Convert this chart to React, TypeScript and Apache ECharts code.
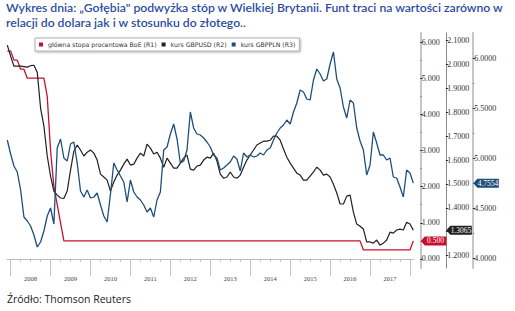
import React, { useEffect, useRef } from "react";
import * as echarts from "echarts";

const TITLE_LINES = [
  "Wykres dnia: „Gołębia\" podwyżka stóp w Wielkiej Brytanii. Funt traci na wartości zarówno w",
  "relacji do dolara jak i w stosunku do złotego..",
];
const SOURCE = "Źródło: Thomson Reuters";

const SERIES_NAMES = [
  "główna stopa procentowa BoE (R1)",
  "kurs GBPUSD (R2)",
  "kurs GBPPLN (R3)",
];

// monthly categories Oct 2007 .. Dec 2017
const MONTHS: string[] = Array.from({ length: 123 }, (_, i) => {
  const m = 9 + i;
  const y = 2007 + Math.floor(m / 12);
  const mm = (m % 12) + 1;
  return `${y}-${String(mm).padStart(2, "0")}`;
});

const BOE_RATE = [
  5.75, 5.75, 5.5, 5.5, 5.25, 5.25, 5.0, 5.0, 5.0, 5.0,
  5.0, 5.0, 4.5, 3.0, 2.0, 1.5, 1.0, 0.5, 0.5, 0.5,
  0.5, 0.5, 0.5, 0.5, 0.5, 0.5, 0.5, 0.5, 0.5, 0.5,
  0.5, 0.5, 0.5, 0.5, 0.5, 0.5, 0.5, 0.5, 0.5, 0.5,
  0.5, 0.5, 0.5, 0.5, 0.5, 0.5, 0.5, 0.5, 0.5, 0.5,
  0.5, 0.5, 0.5, 0.5, 0.5, 0.5, 0.5, 0.5, 0.5, 0.5,
  0.5, 0.5, 0.5, 0.5, 0.5, 0.5, 0.5, 0.5, 0.5, 0.5,
  0.5, 0.5, 0.5, 0.5, 0.5, 0.5, 0.5, 0.5, 0.5, 0.5,
  0.5, 0.5, 0.5, 0.5, 0.5, 0.5, 0.5, 0.5, 0.5, 0.5,
  0.5, 0.5, 0.5, 0.5, 0.5, 0.5, 0.5, 0.5, 0.5, 0.5,
  0.5, 0.5, 0.5, 0.5, 0.5, 0.5, 0.5, 0.25, 0.25, 0.25,
  0.25, 0.25, 0.25, 0.25, 0.25, 0.25, 0.25, 0.25, 0.25, 0.25,
  0.25, 0.25, 0.5,
];

const GBPUSD = [
  2.081, 2.035, 1.993, 1.993, 1.993, 1.991, 1.989, 1.995, 1.997, 1.968,
  1.817, 1.742, 1.617, 1.533, 1.47, 1.453, 1.441, 1.439, 1.47, 1.558,
  1.637, 1.663, 1.642, 1.617, 1.633, 1.642, 1.629, 1.6, 1.541, 1.529,
  1.516, 1.47, 1.508, 1.537, 1.558, 1.583, 1.604, 1.579, 1.583, 1.608,
  1.629, 1.617, 1.667, 1.65, 1.625, 1.633, 1.608, 1.57, 1.608, 1.587,
  1.566, 1.566, 1.587, 1.608, 1.621, 1.562, 1.558, 1.575, 1.579, 1.6,
  1.612, 1.608, 1.629, 1.596, 1.541, 1.524, 1.529, 1.55, 1.529, 1.524,
  1.537, 1.57, 1.6, 1.621, 1.642, 1.663, 1.671, 1.679, 1.679, 1.683,
  1.7, 1.7, 1.683, 1.646, 1.612, 1.587, 1.566, 1.545, 1.537, 1.516,
  1.516, 1.533, 1.55, 1.57, 1.558, 1.537, 1.541, 1.529, 1.499, 1.462,
  1.416, 1.416, 1.449, 1.453, 1.382, 1.332, 1.323, 1.311, 1.257, 1.257,
  1.252, 1.265, 1.244, 1.252, 1.265, 1.298, 1.294, 1.307, 1.311, 1.307,
  1.34, 1.332, 1.3065,
];

const GBPPLN = [
  5.187, 5.047, 4.927, 4.867, 4.687, 4.417, 4.377, 4.327, 4.237, 4.117,
  4.167, 4.277, 4.427, 4.507, 4.347, 5.107, 5.197, 5.007, 4.977, 5.147,
  5.167, 4.957, 4.677, 4.617, 4.687, 4.607, 4.617, 4.657, 4.537, 4.427,
  4.367, 4.647, 4.957, 4.887, 4.827, 4.767, 4.567, 4.787, 4.667, 4.617,
  4.587, 4.537, 4.467, 4.507, 4.417, 4.587, 4.667, 5.087, 5.117, 5.247,
  5.347, 5.197, 4.957, 4.977, 5.087, 5.467, 5.307, 5.247, 5.237, 5.207,
  5.167, 5.117, 5.037, 5.007, 4.887, 4.907, 4.937, 4.967, 5.027, 4.997,
  4.877, 5.057, 5.017, 5.037, 5.017, 5.027, 5.057, 5.037, 5.087, 5.107,
  5.187, 5.257, 5.307, 5.337, 5.387, 5.347, 5.467, 5.557, 5.687, 5.667,
  5.597, 5.587, 5.787, 5.897, 5.847, 5.777, 5.797, 5.947, 6.067, 5.797,
  5.707, 5.517, 5.407, 5.587, 5.557, 5.307, 5.177, 5.087, 4.837, 4.937,
  5.267, 5.157, 5.037, 5.037, 4.987, 5.007, 4.817, 4.807, 4.717, 4.617,
  4.887, 4.857, 4.7554,
];

const R1_TICKS = [0, 1, 2, 3, 4, 5, 6];
const R1_MINOR = [0.5, 1.5, 2.5, 3.5, 4.5, 5.5];
const R2_TICKS = [1.2, 1.3, 1.4, 1.5, 1.6, 1.7, 1.8, 1.9, 2.0, 2.1];
// 1.3000 is hidden behind the GBPUSD value tag in the reference
const R2_LABELS = [1.2, 1.4, 1.5, 1.6, 1.7, 1.8, 1.9, 2.0, 2.1];
const R3_TICKS = [4.0, 4.5, 5.0, 5.5, 6.0];
const R3_MINOR = [4.25, 4.75, 5.25, 5.75];

const COLORS = ["#c8102e", "#231f20", "#1f4e7a"];

const GRID = { left: 7.3, right: 101.7, top: 33, bottom: 43 };
const W = 515;
const H = 311;
const OFFSETS = [7, 32.5, 59.5];

const labelFont = "Liberation Serif";

function yAxisMain(min: number, max: number, ticks: number[], labels: number[], dec: number, offset: number, lineW: number, lineC: string) {
  return {
    type: "value",
    position: "right",
    gridIndex: 0,
    offset,
    min,
    max,
    splitLine: { show: false },
    axisLine: { show: true, lineStyle: { color: lineC, width: lineW } },
    axisTick: { show: true, customValues: ticks, length: 2.5, inside: false, lineStyle: { color: "#333333", width: 1 } },
    axisLabel: {
      customValues: labels,
      formatter: (v: number) => v.toFixed(dec),
      fontSize: 8,
      fontFamily: labelFont,
      color: "#333333",
      margin: 1.5,
    },
  };
}

function yAxisMinor(min: number, max: number, ticks: number[], offset: number) {
  return {
    type: "value",
    position: "right",
    gridIndex: 0,
    offset,
    min,
    max,
    splitLine: { show: false },
    axisLine: { show: false },
    axisTick: { show: true, customValues: ticks, length: 1.5, inside: false, lineStyle: { color: "#888888", width: 1 } },
    axisLabel: { show: false },
  };
}

export default function App() {
  const ref = useRef<HTMLDivElement>(null);

  useEffect(() => {
    if (!ref.current) return;
    const chart = echarts.init(ref.current, undefined, { renderer: "svg" });
    const R1 = [-0.25, 6.25];
    const R2 = [1.148, 2.132];
    const R3 = [3.907, 6.257];

    chart.setOption({
      animation: false,
      backgroundColor: "#fff",
      title: [
        {
          text: TITLE_LINES.join("\n"),
          left: 6,
          top: 0,
          padding: 0,
          textStyle: { fontSize: 12.2, fontWeight: 600, fontFamily: "Lato", color: "#2c4ca3", lineHeight: 15 },
        },
        {
          text: SOURCE,
          left: 7,
          top: 292,
          padding: 0,
          textStyle: { fontSize: 10.5, fontWeight: "normal", fontFamily: "Open Sans", color: "#222", lineHeight: 14 },
        },
      ],
      legend: {
        left: 35,
        top: 38,
        padding: [3, 4, 3, 4],
        itemWidth: 4,
        itemHeight: 4,
        itemGap: 5,
        icon: "rect",
        borderColor: "#b0b0b0",
        borderWidth: 1,
        backgroundColor: "#fff",
        shadowColor: "rgba(0,0,0,0.3)",
        shadowBlur: 2,
        shadowOffsetX: 1,
        shadowOffsetY: 1,
        data: SERIES_NAMES,
        textStyle: { fontSize: 6.2, fontFamily: "DejaVu Sans", color: "#333", lineHeight: 7 },
      },
      grid: { ...GRID, containLabel: false },
      xAxis: [
        {
          type: "category",
          data: MONTHS,
          boundaryGap: false,
          gridIndex: 0,
          axisLine: { show: true, lineStyle: { color: "#bbbbbb", width: 1 } },
          axisTick: { show: true, interval: (i: number) => i % 12 === 1, length: 17, lineStyle: { color: "#c4c4c4" } },
          axisLabel: {
            interval: (i: number) => i % 12 === 7,
            formatter: (v: string) => v.slice(0, 4),
            fontSize: 6.5,
            fontFamily: labelFont,
            color: "#444444",
            margin: 7,
          },
          splitLine: { show: false },
        },
        {
          type: "category",
          data: MONTHS,
          boundaryGap: false,
          gridIndex: 0,
          position: "bottom",
          axisLine: { show: false },
          axisTick: { show: true, interval: (i: number) => i % 3 === 1, length: 3, lineStyle: { color: "#c4c4c4" } },
          axisLabel: { show: false },
          splitLine: { show: false },
        },
      ],
      yAxis: [
        yAxisMain(R1[0], R1[1], R1_TICKS, R1_TICKS, 3, OFFSETS[0], 2, "#c6c6c6"),
        yAxisMain(R2[0], R2[1], R2_TICKS, R2_LABELS, 4, OFFSETS[1], 1, "#8a8a8a"),
        yAxisMain(R3[0], R3[1], R3_TICKS, R3_TICKS, 4, OFFSETS[2], 2, "#c6c6c6"),
        yAxisMinor(R1[0], R1[1], R1_MINOR, OFFSETS[0]),
        yAxisMinor(R3[0], R3[1], R3_MINOR, OFFSETS[2]),
      ],
      series: [
        {
          name: SERIES_NAMES[0],
          type: "line",
          xAxisIndex: 0,
          yAxisIndex: 0,
          data: BOE_RATE,
          symbol: "none",
          lineStyle: { color: COLORS[0], width: 1.3 },
          itemStyle: { color: COLORS[0] },
        },
        {
          name: SERIES_NAMES[1],
          type: "line",
          xAxisIndex: 0,
          yAxisIndex: 1,
          data: GBPUSD,
          symbol: "none",
          lineStyle: { color: COLORS[1], width: 1.2 },
          itemStyle: { color: COLORS[1] },
        },
        {
          name: SERIES_NAMES[2],
          type: "line",
          xAxisIndex: 0,
          yAxisIndex: 2,
          data: GBPPLN,
          symbol: "none",
          lineStyle: { color: COLORS[2], width: 1.3 },
          itemStyle: { color: COLORS[2] },
        },
      ],
    });

    // value tags on the axes, positioned through the axes' own scales
    const xRight = W - GRID.right;
    const lasts = [
      { axis: 0, value: BOE_RATE[BOE_RATE.length - 1], dec: 3 },
      { axis: 1, value: GBPUSD[GBPUSD.length - 1], dec: 4 },
      { axis: 2, value: GBPPLN[GBPPLN.length - 1], dec: 4 },
    ];
    const graphic: any[] = [];
    lasts.forEach((t, k) => {
      const y = chart.convertToPixel({ yAxisIndex: t.axis } as any, t.value) as unknown as number;
      const x0 = xRight + OFFSETS[k] + 0.5;
      const w = 25.5;
      const h = 4.5;
      graphic.push({
        type: "polygon",
        shape: { points: [[x0, y], [x0 + 4, y - h], [x0 + w, y - h], [x0 + w, y + h], [x0 + 4, y + h]] },
        style: { fill: COLORS[k] },
        z: 100,
      });
      graphic.push({
        type: "text",
        x: x0 + 4 + (w - 4) / 2,
        y,
        style: {
          text: t.value.toFixed(t.dec),
          fill: "#fff",
          fontSize: 7.5,
          fontFamily: labelFont,
          align: "center",
          verticalAlign: "middle",
        },
        z: 101,
      });
    });
    chart.setOption({ graphic });

    return () => chart.dispose();
  }, []);

  return (
    <div
      ref={ref}
      style={{ position: "fixed", left: 0, top: 0, width: W, height: H }}
    />
  );
}
